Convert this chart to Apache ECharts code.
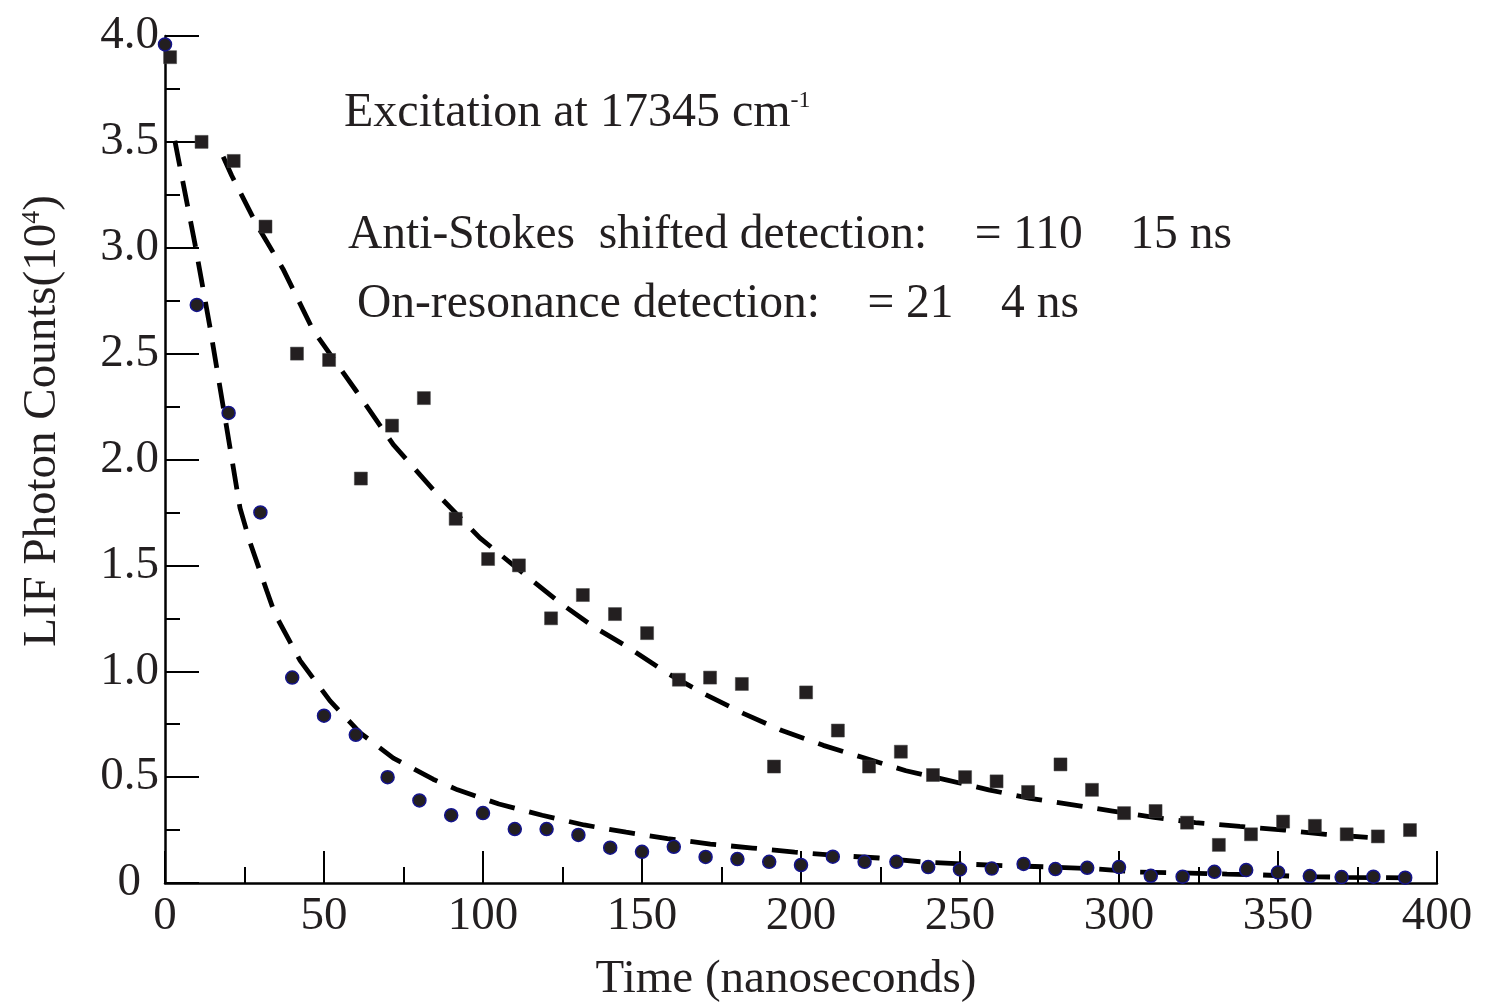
<!DOCTYPE html>
<html>
<head>
<meta charset="utf-8">
<script src="https://cdn.jsdelivr.net/npm/echarts@6/dist/echarts.min.js"></script>
<style>
html,body{margin:0;padding:0;background:#fff;}
#chart{width:1486px;height:1005px;}
</style>
</head>
<body>
<div id="chart"></div>
<script>
// ---- Data ----
// Anti-Stokes shifted detection (squares)
const timeAntiStokes = [1.6, 11.5, 21.6, 31.6, 41.5, 51.6, 61.6, 71.4, 81.4, 91.4, 101.6, 111.3, 121.4, 131.4, 141.5, 151.6, 161.6, 171.4, 181.4, 191.5, 201.6, 211.6, 221.4, 231.4, 241.5, 251.6, 261.5, 271.4, 281.6, 291.5, 301.6, 311.5, 321.4, 331.4, 341.5, 351.6, 361.6, 371.6, 381.4, 391.5];
const countsAntiStokes = [3.90, 3.50, 3.41, 3.10, 2.50, 2.47, 1.91, 2.16, 2.29, 1.72, 1.53, 1.50, 1.25, 1.36, 1.27, 1.18, 0.96, 0.97, 0.94, 0.55, 0.90, 0.72, 0.55, 0.62, 0.51, 0.50, 0.48, 0.43, 0.56, 0.44, 0.33, 0.34, 0.285, 0.18, 0.23, 0.29, 0.27, 0.23, 0.22, 0.25];
// On-resonance detection (circles)
const timeOnResonance = [0, 10, 20, 30, 40, 50, 60, 70, 80, 90, 100, 110, 120, 130, 140, 150, 160, 170, 180, 190, 200, 210, 220, 230, 240, 250, 260, 270, 280, 290, 300, 310, 320, 330, 340, 350, 360, 370, 380, 390];
const countsOnResonance = [3.96, 2.73, 2.22, 1.75, 0.97, 0.79, 0.70, 0.50, 0.39, 0.32, 0.33, 0.255, 0.255, 0.227, 0.167, 0.147, 0.171, 0.123, 0.113, 0.10, 0.085, 0.124, 0.10, 0.10, 0.075, 0.064, 0.068, 0.09, 0.066, 0.072, 0.075, 0.034, 0.03, 0.053, 0.061, 0.05, 0.033, 0.028, 0.03, 0.025];
// Dashed fit curves (read along the dashes)
const fitAntiStokesTime = [18.3, 21, 28.8, 37.1, 46.6, 60.3, 71.8, 85.4, 99, 113.7, 124.5, 134.8, 146, 158, 170, 182, 194, 207, 220, 233, 246, 259, 272, 285, 298, 311, 324, 338, 352, 365, 383];
const fitAntiStokesCounts = [3.43, 3.34, 3.11, 2.90, 2.61, 2.32, 2.07, 1.84, 1.63, 1.45, 1.32, 1.21, 1.11, 0.99, 0.89, 0.80, 0.72, 0.65, 0.59, 0.53, 0.486, 0.44, 0.40, 0.37, 0.34, 0.31, 0.285, 0.267, 0.25, 0.23, 0.21];
const fitOnResonanceTime = [3.1, 9.4, 14.2, 23.6, 26.7, 32, 34.6, 42.5, 51.9, 61.3, 71.8, 84.3, 92, 105, 118.6, 131.8, 145, 158, 171.5, 184.8, 198, 211, 224.5, 237.8, 251, 264, 278, 293, 306, 319, 334, 345, 359, 372, 391];
const fitOnResonanceCounts = [3.505, 3.02, 2.62, 1.77, 1.61, 1.38, 1.27, 1.05, 0.86, 0.71, 0.59, 0.49, 0.44, 0.373, 0.32, 0.274, 0.24, 0.21, 0.184, 0.165, 0.146, 0.13, 0.118, 0.10, 0.09, 0.082, 0.076, 0.066, 0.052, 0.048, 0.042, 0.038, 0.03, 0.027, 0.024];

const xAxisTitle = 'Time (nanoseconds)';
const yAxisTitle = 'LIF Photon Counts(10{sup|4})';
const noteExcitation = 'Excitation at 17345 cm{sup|-1}';
const noteAntiStokes = 'Anti-Stokes  shifted detection:    = 110    15 ns';
const noteOnResonance = 'On-resonance detection:    = 21    4 ns';

const FONT = '"Liberation Serif", "Times New Roman", Times, serif';
const INK = '#231f20';

function pairs(xs, ys) { return xs.map((x, i) => [x, ys[i]]); }

const chart = echarts.init(document.getElementById('chart'), null, {renderer: 'canvas'});

const axisCommon = {
  type: 'value',
  splitLine: {show: false},
  minorSplitLine: {show: false},
  axisLine: {show: true, onZero: false, lineStyle: {color: '#000', width: 2.5}},
  axisTick: {show: true, inside: true, lineStyle: {color: '#000', width: 2}},
  minorTick: {show: true, splitNumber: 2, lineStyle: {color: '#000', width: 2}},
  axisLabel: {color: INK, fontFamily: FONT, fontSize: 47, showMinLabel: true, showMaxLabel: true}
};

const option = {
  animation: false,
  backgroundColor: '#fff',
  grid: {left: 165, right: 49, top: 36, bottom: 122, containLabel: false},
  xAxis: Object.assign({}, axisCommon, {
    min: 0, max: 400, interval: 50,
    axisTick: Object.assign({}, axisCommon.axisTick, {length: 32}),
    minorTick: Object.assign({}, axisCommon.minorTick, {length: 16}),
    axisLabel: Object.assign({}, axisCommon.axisLabel, {margin: 10})
  }),
  yAxis: Object.assign({}, axisCommon, {
    min: 0, max: 4, interval: 0.5,
    axisTick: Object.assign({}, axisCommon.axisTick, {length: 34}),
    minorTick: Object.assign({}, axisCommon.minorTick, {length: 15}),
    axisLabel: Object.assign({}, axisCommon.axisLabel, {
      margin: 6,
      formatter: v => v === 0 ? '{z|0}' : v.toFixed(1),
      rich: {z: {color: INK, fontFamily: FONT, fontSize: 47, padding: [0, 18, 0, 0]}}
    })
  }),
  graphic: [
    {type: 'text', x: 43, y: 421, rotation: Math.PI / 2,
     style: {text: yAxisTitle, fontFamily: FONT, fontSize: 47, fill: INK, align: 'center', verticalAlign: 'middle',
             rich: {sup: {fontFamily: FONT, fontSize: 26, fill: INK, verticalAlign: 'top'}}}},
    {type: 'text', x: 786, y: 980,
     style: {text: xAxisTitle, fontFamily: FONT, fontSize: 47, fill: INK, align: 'center', verticalAlign: 'middle'}},
    {type: 'text', x: 344, y: 113,
     style: {text: noteExcitation, fontFamily: FONT, fontSize: 48, fill: INK, align: 'left', verticalAlign: 'middle',
             rich: {sup: {fontFamily: FONT, fontSize: 24, fill: INK, verticalAlign: 'top'}}}},
    {type: 'text', x: 348, y: 236,
     style: {text: noteAntiStokes, fontFamily: FONT, fontSize: 47.5, fill: INK, align: 'left', verticalAlign: 'middle'}},
    {type: 'text', x: 357, y: 305,
     style: {text: noteOnResonance, fontFamily: FONT, fontSize: 47.5, fill: INK, align: 'left', verticalAlign: 'middle'}}
  ],
  series: [
    {type: 'line', name: 'fit anti-Stokes', data: pairs(fitAntiStokesTime, fitAntiStokesCounts),
     showSymbol: false, symbol: 'none', smooth: false, z: 3,
     lineStyle: {color: '#000', width: 4.8, type: [26, 15], cap: 'butt'}},
    {type: 'line', name: 'fit on-resonance', data: pairs(fitOnResonanceTime, fitOnResonanceCounts),
     showSymbol: false, symbol: 'none', smooth: false, z: 3,
     lineStyle: {color: '#000', width: 4.8, type: [26, 15], cap: 'butt'}},
    {type: 'scatter', name: 'Anti-Stokes', data: pairs(timeAntiStokes, countsAntiStokes),
     symbol: 'rect', symbolSize: 13, z: 4,
     itemStyle: {color: INK, opacity: 1, borderColor: '#444', borderWidth: 0.5}},
    {type: 'scatter', name: 'On-resonance', data: pairs(timeOnResonance, countsOnResonance),
     symbol: 'circle', symbolSize: 13, z: 4,
     itemStyle: {color: INK, opacity: 1, borderColor: '#14148c', borderWidth: 1.5}}
  ]
};
chart.setOption(option);
</script>
</body>
</html>
